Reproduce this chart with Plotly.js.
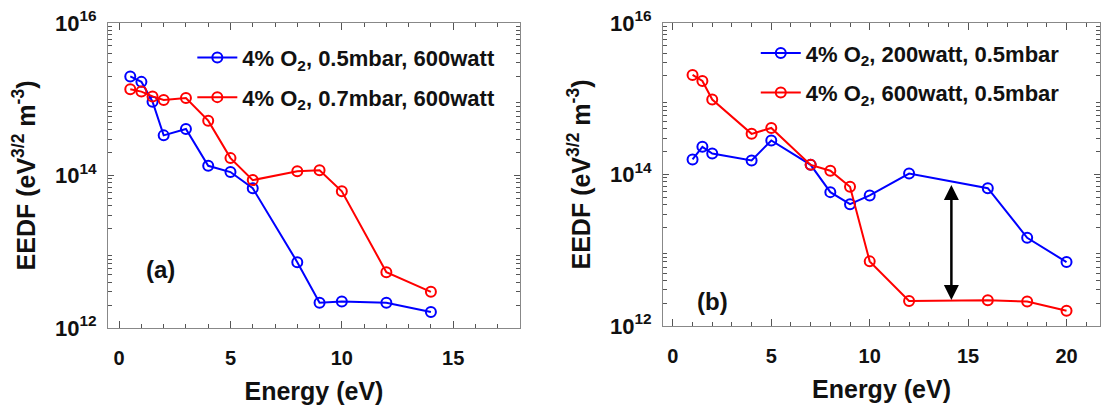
<!DOCTYPE html>
<html>
<head>
<meta charset="utf-8">
<script src="https://cdn.plot.ly/plotly-3.0.1.min.js"></script>
<style>html,body{margin:0;padding:0;background:#fff;}#chart{width:1102px;height:408px;}</style>
</head>
<body>
<div id="chart"></div>
<script>
// ---- Panel (a) data ----
const energyA = [0.5, 1, 1.5, 2, 3, 4, 5, 6, 8, 9, 10, 12, 14];
const eedfA_05mbar = [1.99e15, 1.69e15, 9.3e14, 3.36e14, 4.07e14, 1.34e14, 1.11e14, 6.8e13, 7.3e12, 2.15e12, 2.22e12, 2.14e12, 1.62e12];
const eedfA_07mbar = [1.35e15, 1.26e15, 1.09e15, 9.8e14, 1.04e15, 5.24e14, 1.69e14, 8.7e13, 1.14e14, 1.17e14, 6.2e13, 5.4e12, 2.98e12];
const nameA1 = "4% O<sub>2</sub>, 0.5mbar, 600watt";
const nameA2 = "4% O<sub>2</sub>, 0.7mbar, 600watt";

// ---- Panel (b) data ----
const energyB = [1, 1.5, 2, 4, 5, 7, 8, 9, 10, 12, 16, 18, 20];
const eedfB_200W = [1.58e14, 2.32e14, 1.89e14, 1.53e14, 2.81e14, 1.34e14, 5.85e13, 4.06e13, 5.29e13, 1.03e14, 6.6e13, 1.46e13, 6.98e12];
const eedfB_600W = [2.06e15, 1.72e15, 9.76e14, 3.44e14, 4.12e14, 1.34e14, 1.12e14, 6.87e13, 7.13e12, 2.14e12, 2.18e12, 2.1e12, 1.59e12];
const nameB1 = "4% O<sub>2</sub>, 200watt, 0.5mbar";
const nameB2 = "4% O<sub>2</sub>, 600watt, 0.5mbar";

// double arrow in panel (b)
const arrowX = 14.15;
const arrowTop = 7.6e13;
const arrowBottom = 2.2e12;

const yTickVals = [1e12, 1e14, 1e16];
const yTickText = ["10<sup>12</sup>", "10<sup>14</sup>", "10<sup>16</sup>"];
const panelLabels = ["(a)", "(b)"];

// minor log ticks (2..9 in each decade)
const yMinorVals = [];
for (let e = 12; e < 16; e++) for (let m = 2; m <= 9; m++) yMinorVals.push(m * Math.pow(10, e));

const BLUE = "#0000ff", RED = "#ff0000";
const FONT = "Liberation Sans, Arial, sans-serif";

function tr(x, y, name, color, xa, ya, leg, grp) {
  return {
    x: x, y: y, name: name, type: "scatter", mode: "lines+markers",
    xaxis: xa, yaxis: ya, legend: leg, legendgroup: grp,
    line: {color: color, width: 2},
    marker: {symbol: "circle-open", size: 10, color: color, line: {width: 2, color: color}}
  };
}

const data = [
  tr(energyA, eedfA_05mbar, nameA1, BLUE, "x", "y", "legend", "a1"),
  tr(energyA, eedfA_07mbar, nameA2, RED, "x", "y", "legend", "a2"),
  tr(energyB, eedfB_200W, nameB1, BLUE, "x2", "y2", "legend2", "b1"),
  tr(energyB, eedfB_600W, nameB2, RED, "x2", "y2", "legend2", "b2")
];

function xAxis(domain, range, anchor) {
  return {
    domain: domain, range: range, anchor: anchor,
    dtick: 5, tick0: 0,
    ticks: "inside", ticklen: 7, tickwidth: 1, tickcolor: "#555",
    minor: {ticks: "inside", dtick: 1, ticklen: 4, tickcolor: "#555"},
    showline: true, linecolor: "#888", linewidth: 1, mirror: "ticks",
    showgrid: false, zeroline: false,
    ticklabelstandoff: 12,
    tickfont: {family: FONT, size: 20, weight: "bold", color: "#111"},
    title: {text: "Energy (eV)", standoff: 14, font: {family: FONT, size: 25, weight: "bold", color: "#111"}}
  };
}
function yAxis(domain, anchor) {
  return {
    domain: domain, anchor: anchor, type: "log", range: [12, 16],
    tickvals: yTickVals, ticktext: yTickText,
    ticks: "inside", ticklen: 6, tickwidth: 1, tickcolor: "#555",
    minor: {ticks: "inside", tickvals: yMinorVals, ticklen: 4, tickcolor: "#555"},
    showline: true, linecolor: "#888", linewidth: 1, mirror: "ticks",
    showgrid: false, zeroline: false,
    ticklabelstandoff: 6,
    tickfont: {family: FONT, size: 22, weight: "bold", color: "#111"},
    title: {text: "EEDF (eV<sup>3/2</sup> m<sup>-3</sup>)", standoff: 12, font: {family: FONT, size: 25, weight: "bold", color: "#111"}}
  };
}

const legendBase = {
  bgcolor: "rgba(0,0,0,0)", borderwidth: 0,
  font: {family: FONT, size: 22, weight: "bold", color: "#111"},
  traceorder: "grouped", tracegroupgap: 8,
  xanchor: "left", yanchor: "top", itemwidth: 40
};

const layout = {
  width: 1102, height: 408,
  margin: {l: 108, r: 2, t: 23, b: 80},
  paper_bgcolor: "#fff", plot_bgcolor: "#fff",
  showlegend: true,
  xaxis: xAxis([0, 0.4153], [-0.5, 18], "y"),
  yaxis: yAxis([0, 1], "x"),
  xaxis2: xAxis([0.5595, 1], [-0.5, 21.7], "y2"),
  yaxis2: yAxis([0.0066, 1], "x2"),
  legend: Object.assign({}, legendBase, {x: 0.085, y: 0.955}),
  legend2: Object.assign({}, legendBase, {x: 0.653, y: 0.97}),
  annotations: [
    {xref: "x", yref: "y", x: 1.84, y: Math.log10(5.8e12), text: panelLabels[0], showarrow: false,
     font: {family: FONT, size: 24, weight: "bold", color: "#111"}},
    {xref: "x2", yref: "y2", x: 2.0, y: Math.log10(2.1e12), text: panelLabels[1], showarrow: false,
     font: {family: FONT, size: 24, weight: "bold", color: "#111"}},
    {xref: "x2", yref: "y2", axref: "x2", ayref: "y2",
     x: arrowX, y: Math.log10(arrowBottom), ax: arrowX, ay: Math.log10(arrowTop),
     text: "", showarrow: true, arrowside: "end+start", arrowhead: 2, arrowsize: 1.2,
     arrowwidth: 2.5, arrowcolor: "#000", standoff: 0, startstandoff: 0}
  ]
};

Plotly.newPlot("chart", data, layout, {displayModeBar: false, staticPlot: true});
</script>
</body>
</html>
